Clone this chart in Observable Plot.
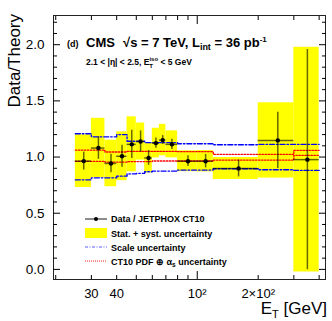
<!DOCTYPE html>
<html><head><meta charset="utf-8">
<script src="https://cdn.jsdelivr.net/npm/d3@7"></script>
<script src="https://cdn.jsdelivr.net/npm/@observablehq/plot@0.6"></script>
<style>
body{margin:0;background:#fff}
svg{font-family:"Liberation Sans",Arial,sans-serif}
</style>
</head><body><div id="chart"></div>
<script>
// Bin edges in E_T [GeV]
const edges = [25, 30, 35, 40, 45, 50, 55, 60, 65, 70, 80, 100, 120, 200, 300, 400];
// Data / JETPHOX CT10 ratio per bin
const ratio = [0.964, 1.080, 0.943, 1.007, 1.113, 1.138, 0.992, 1.124, 1.151, 1.113, 0.963, 0.963, 0.898, 1.148, 0.977];
// statistical error (black bars)
const statErr = [0.080, 0.100, 0.082, 0.097, 0.125, 0.095, 0.066, 0.046, 0.040, 0.045, 0.048, 0.060, 0.075, 0.250, 0.980];
// stat + syst (yellow band)
const totErr = [0.235, 0.265, 0.207, 0.217, 0.245, 0.165, 0.134, 0.132, 0.140, 0.120, 0.093, 0.095, 0.098, 0.335, 1.000];
// scale uncertainty band (blue)
const scaleHi = [1.208, 1.180, 1.180, 1.200, 1.140, 1.140, 1.128, 1.128, 1.128, 1.128, 1.119, 1.119, 1.110, 1.113, 1.113];
const scaleLo = [0.797, 0.815, 0.815, 0.830, 0.850, 0.855, 0.869, 0.875, 0.875, 0.875, 0.884, 0.884, 0.896, 0.887, 0.881];
// CT10 PDF (+) alpha_s uncertainty band (red)
const pdfHi = [1.062, 1.062, 1.045, 1.045, 1.050, 1.050, 1.050, 1.050, 1.050, 1.050, 1.048, 1.048, 1.024, 1.024, 1.060];
const pdfLo = [0.962, 0.962, 0.955, 0.955, 0.960, 0.960, 0.960, 0.965, 0.965, 0.965, 0.965, 0.965, 0.973, 0.973, 1.015];
// ticks
const yMajor = [0, 0.5, 1.0, 1.5, 2.0];
const yMinor = [0.1,0.2,0.3,0.4,0.6,0.7,0.8,0.9,1.1,1.2,1.3,1.4,1.6,1.7,1.8,1.9,2.1,2.2];
const xMinor = [20, 30, 40, 50, 60, 70, 80, 90, 200, 300, 400];
const xMajor = [100];
const xLabelVals = [30, 40, 100, 200];
const xLabelText = ["30", "40", "10²", "2×10²"];

const bins = ratio.map((r, i) => ({
  lo: edges[i], hi: edges[i + 1], x: (edges[i] + edges[i + 1]) / 2,
  r, stat: statErr[i], tot: totErr[i]
}));
const step = vals => [...vals.map((v, i) => ({x: edges[i], y: v})), {x: edges[edges.length - 1], y: vals[vals.length - 1]}];

const blue = {stroke: "#0000ff", strokeWidth: 1.4, strokeDasharray: "5,2,1.5,2", curve: "step-after"};
const red = {stroke: "#ff0000", strokeWidth: 1.3, strokeDasharray: "1.5,1.5", curve: "step-after"};
const blank = () => "";

const plot = Plot.plot({
  width: 332, height: 321,
  marginLeft: 53, marginRight: 7, marginTop: 15, marginBottom: 42,
  x: {type: "log", domain: [19.5, 430]},
  y: {domain: [-0.09, 2.26]},
  style: {fontFamily: "Liberation Sans, Arial, sans-serif", background: "#fff", color: "#000"},
  marks: [
    Plot.rect(bins, {x1: "lo", x2: "hi", y1: d => d.r - d.tot, y2: d => d.r + d.tot, fill: "#ffff00"}),
    Plot.line(step(scaleHi), {x: "x", y: "y", ...blue}),
    Plot.line(step(scaleLo), {x: "x", y: "y", ...blue}),
    Plot.line(step(pdfHi), {x: "x", y: "y", ...red}),
    Plot.line(step(pdfLo), {x: "x", y: "y", ...red}),
    Plot.ruleY(bins, {y: "r", x1: "lo", x2: "hi", stroke: "#000", strokeOpacity: 0.6, strokeWidth: 1.5}),
    Plot.ruleX(bins, {x: "x", y1: d => d.r - d.stat, y2: d => d.r + d.stat, stroke: "#000", strokeOpacity: 0.6, strokeWidth: 1.5}),
    Plot.dot(bins, {x: "x", y: "r", r: 2.2, fill: "#000"}),
    Plot.frame({stroke: "#222"}),
    Plot.axisY({ticks: yMajor, anchor: "left", tickSize: 7, insetLeft: 7, tickPadding: 9, tickFormat: d3.format(".1f"), fontSize: 13.5, label: null}),
    Plot.axisY({ticks: yMinor, anchor: "left", tickSize: 4, insetLeft: 4, tickFormat: blank, label: null}),
    Plot.axisY({ticks: yMajor, anchor: "right", tickSize: 7, insetRight: 7, tickFormat: blank, label: null}),
    Plot.axisY({ticks: yMinor, anchor: "right", tickSize: 4, insetRight: 4, tickFormat: blank, label: null}),
    Plot.axisX({ticks: xMinor, anchor: "bottom", tickSize: 4, insetBottom: 4, tickFormat: blank, label: null}),
    Plot.axisX({ticks: xMajor, anchor: "bottom", tickSize: 8, insetBottom: 8, tickFormat: blank, label: null}),
    Plot.axisX({ticks: xMinor, anchor: "top", tickSize: 4, insetTop: 4, tickFormat: blank, label: null}),
    Plot.axisX({ticks: xMajor, anchor: "top", tickSize: 8, insetTop: 8, tickFormat: blank, label: null}),
    Plot.axisX({ticks: xLabelVals, anchor: "bottom", tickSize: 0, tickPadding: 9, tickFormat: d => xLabelText[xLabelVals.indexOf(d)], fontSize: 13, label: null})
  ]
});

const svg = d3.select(plot);
// axis titles
svg.append("text").attr("transform", "translate(20,14) rotate(-90)").attr("text-anchor", "end")
  .attr("font-size", 17).attr("fill", "#000").text("Data/Theory");
const xt = svg.append("text").attr("x", 327).attr("y", 314).attr("text-anchor", "end").attr("font-size", 17).attr("fill", "#000");
xt.append("tspan").text("E");
xt.append("tspan").attr("font-size", 11).attr("dy", 4).text("T");
xt.append("tspan").attr("dy", -4).text(" [GeV]");

// header
const g = svg.append("g").attr("font-weight", "bold").attr("fill", "#000").attr("text-anchor", "start");
g.append("text").attr("x", 67).attr("y", 47).attr("font-size", 9).text("(d)");
g.append("text").attr("x", 86).attr("y", 47).attr("font-size", 13).text("CMS");
const h = g.append("text").attr("x", 123).attr("y", 47).attr("font-size", 13);
h.append("tspan").text("√s = 7 TeV, L");
h.append("tspan").attr("font-size", 9).attr("dy", 3).text("int");
h.append("tspan").attr("dy", -3).text(" = 36 pb");
h.append("tspan").attr("font-size", 8).attr("dy", -5).text("-1");
const h2 = g.append("text").attr("x", 86).attr("y", 65).attr("font-size", 8.5);
h2.append("tspan").text("2.1 < |η| < 2.5, E");
h2.append("tspan").attr("font-size", 6).attr("dy", 2.5).text("T");
h2.append("tspan").attr("font-size", 6).attr("dx", -3.5).attr("dy", -6.5).text("iso");
h2.append("tspan").attr("dy", 4).text(" < 5 GeV");

// legend
const L = svg.append("g").attr("text-anchor", "start");
L.append("line").attr("x1", 85).attr("x2", 107).attr("y1", 219).attr("y2", 219).attr("stroke", "#000").attr("stroke-opacity", 0.6).attr("stroke-width", 1.5);
L.append("circle").attr("cx", 96).attr("cy", 219).attr("r", 2).attr("fill", "#000");
L.append("rect").attr("x", 85).attr("y", 228).attr("width", 22).attr("height", 10).attr("fill", "#ffff00");
L.append("line").attr("x1", 85).attr("x2", 107).attr("y1", 247).attr("y2", 247).attr("stroke", "#3333ff").attr("stroke-width", 1.1).attr("stroke-dasharray", "3,1.5,1,1.5").attr("stroke-opacity", 0.8);
L.append("line").attr("x1", 85).attr("x2", 107).attr("y1", 261).attr("y2", 261).attr("stroke", "#ff0000").attr("stroke-width", 1.1).attr("stroke-dasharray", "1,1").attr("stroke-opacity", 0.9);
const lt = L.append("g").attr("font-weight", "bold").attr("font-size", 9).attr("fill", "#000");
lt.append("text").attr("x", 111).attr("y", 222).text("Data / JETPHOX CT10");
lt.append("text").attr("x", 111).attr("y", 236.5).text("Stat. + syst. uncertainty");
lt.append("text").attr("x", 111).attr("y", 250.5).text("Scale uncertainty");
const l4 = lt.append("text").attr("x", 111).attr("y", 264.5);
l4.append("tspan").text("CT10 PDF ⊕ α");
l4.append("tspan").attr("font-size", 6.5).attr("dy", 2).text("s");
l4.append("tspan").attr("dy", -2).text(" uncertainty");

document.getElementById("chart").appendChild(plot);
</script>
</body></html>
